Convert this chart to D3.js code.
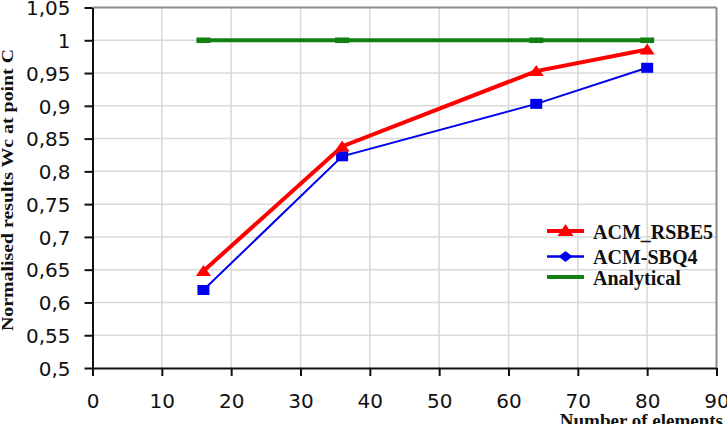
<!DOCTYPE html>
<html>
<head>
<meta charset="utf-8">
<script src="https://cdn.jsdelivr.net/npm/d3@7"></script>
<style>
html,body{margin:0;padding:0;background:#fff;}
svg{display:block;}
</style>
</head>
<body>
<svg id="chart" width="727" height="424"></svg>
<script>
// ---- data ----
const elements = [16, 36, 64, 80];
const acmRsbe5 = [0.648, 0.838, 0.953, 0.986];
const acmSbq4 = [0.619, 0.823, 0.903, 0.958];
const analytical = [1.0, 1.0, 1.0, 1.0];
const xTicks = [0, 10, 20, 30, 40, 50, 60, 70, 80, 90];
const yTicks = [0.5, 0.55, 0.6, 0.65, 0.7, 0.75, 0.8, 0.85, 0.9, 0.95, 1, 1.05];
const seriesNames = ["ACM_RSBE5", "ACM-SBQ4", "Analytical"];
const xTitle = "Number of elements";
const yTitle = "Normalised results Wc at point C";

const svg = d3.select("#chart");
const L = 92.5, R = 716.5, T = 7.5, B = 368;
const x = d3.scaleLinear().domain([0, 90]).range([L, R]);
const y = d3.scaleLinear().domain([0.5, 1.05]).range([B, T]);
const fmt = v => String(+v.toFixed(2)).replace(".", ",");

// gridlines
svg.append("g").selectAll("line").data(xTicks.filter(t => t > 0 && t < 90)).join("line")
  .attr("x1", d => x(d)).attr("x2", d => x(d)).attr("y1", T).attr("y2", B)
  .attr("stroke", "#d9d9d9").attr("stroke-width", 1.5);
svg.append("g").selectAll("line").data(yTicks.filter(t => t > 0.5 && t < 1.05)).join("line")
  .attr("y1", d => y(d)).attr("y2", d => y(d)).attr("x1", L).attr("x2", R)
  .attr("stroke", "#d9d9d9").attr("stroke-width", 1.5);

// frame top/right
svg.append("line").attr("x1", L).attr("x2", R).attr("y1", T).attr("y2", T).attr("stroke", "#8c8c8c").attr("stroke-width", 2);
svg.append("line").attr("x1", R).attr("x2", R).attr("y1", T).attr("y2", B).attr("stroke", "#8c8c8c").attr("stroke-width", 2);

// axes
const xAxis = svg.append("g").attr("transform", `translate(0,${B})`)
  .call(d3.axisBottom(x).tickValues(xTicks).tickSize(8).tickSizeOuter(0).tickPadding(14).tickFormat(d => d));
const yAxis = svg.append("g").attr("transform", `translate(${L},0)`)
  .call(d3.axisLeft(y).tickValues(yTicks).tickSize(8).tickSizeOuter(0).tickPadding(14).tickFormat(fmt));
[xAxis, yAxis].forEach(a => {
  a.select(".domain").attr("stroke", "#111").attr("stroke-width", 2);
  a.selectAll(".tick line").attr("stroke", "#111").attr("stroke-width", 2);
  a.selectAll(".tick text").attr("fill", "#111")
    .style("font-family", "'DejaVu Sans', sans-serif").style("font-size", "20px");
});
xAxis.selectAll(".tick text").attr("dy", null).attr("y", 40);
yAxis.selectAll(".tick text").attr("dy", "0.36em");

// lines
const line = d3.line().x(d => x(d[0])).y(d => y(d[1]));
const zip = vals => elements.map((e, i) => [e, vals[i]]);

svg.append("path").datum(zip(analytical)).attr("d", line)
  .attr("fill", "none").attr("stroke", "#128012").attr("stroke-width", 4);
svg.append("g").selectAll("rect").data(zip(analytical)).join("rect")
  .attr("x", d => x(d[0]) - 7).attr("y", d => y(d[1]) - 2.8).attr("width", 14).attr("height", 5.6)
  .attr("fill", "#128012");

svg.append("path").datum(zip(acmSbq4)).attr("d", line)
  .attr("fill", "none").attr("stroke", "#0000ee").attr("stroke-width", 2);
svg.append("g").selectAll("rect").data(zip(acmSbq4)).join("rect")
  .attr("x", d => x(d[0]) - 6).attr("y", d => y(d[1]) - 5).attr("width", 12).attr("height", 10)
  .attr("fill", "#0000ee");

svg.append("path").datum(zip(acmRsbe5)).attr("d", line)
  .attr("fill", "none").attr("stroke", "#ff0000").attr("stroke-width", 4);
svg.append("g").selectAll("path").data(zip(acmRsbe5)).join("path")
  .attr("d", d => { const cx = x(d[0]), cy = y(d[1]); return `M${cx - 7.5},${cy + 5}L${cx + 7.5},${cy + 5}L${cx},${cy - 6}Z`; })
  .attr("fill", "#ff0000");

// legend
const lg = svg.append("g");
const legY = [231, 256.5, 277];
const legBase = [238.5, 264, 284.5];
const legColors = ["#ff0000", "#0000ee", "#128012"];
const legW = [4, 2.5, 4];
seriesNames.forEach((n, i) => {
  lg.append("line").attr("x1", 547).attr("x2", 584).attr("y1", legY[i]).attr("y2", legY[i])
    .attr("stroke", legColors[i]).attr("stroke-width", legW[i]);
  lg.append("text").attr("x", 593).attr("y", legBase[i]).text(n)
    .style("font-family", "'Liberation Serif', serif").style("font-weight", "bold").style("font-size", "20px").attr("fill", "#111");
});
lg.append("path").attr("d", `M${565.5 - 8},${legY[0] + 5}L${565.5 + 8},${legY[0] + 5}L565.5,${legY[0] - 7}Z`).attr("fill", "#ff0000");
lg.append("path").attr("d", `M${565.5 - 7},${legY[1]}L565.5,${legY[1] - 5.5}L${565.5 + 7},${legY[1]}L565.5,${legY[1] + 5.5}Z`).attr("fill", "#0000ee");

// titles
svg.append("text").attr("x", 723).attr("y", 427).attr("text-anchor", "end").text(xTitle)
  .style("font-family", "'Liberation Serif', serif").style("font-weight", "bold").style("font-size", "19px").attr("fill", "#111");
svg.append("text").attr("transform", "translate(13,190) rotate(-90)").attr("text-anchor", "middle").text(yTitle)
  .attr("textLength", 282).attr("lengthAdjust", "spacingAndGlyphs")
  .style("font-family", "'Liberation Serif', serif").style("font-weight", "bold").style("font-size", "17px").attr("fill", "#111");
</script>
</body>
</html>
